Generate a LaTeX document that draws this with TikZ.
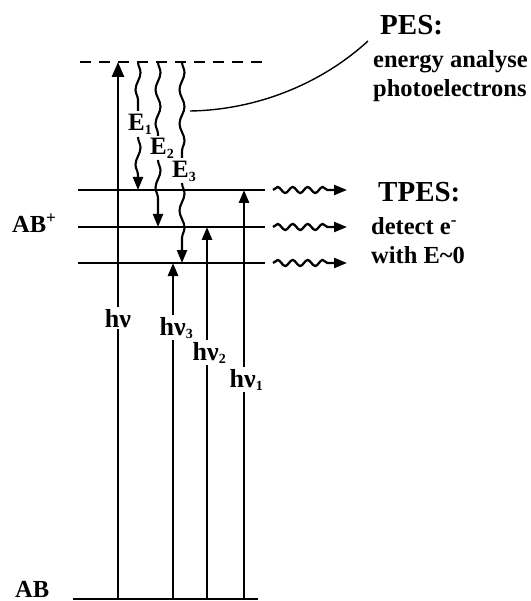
\documentclass[tikz,border=0pt]{standalone}
\usepackage{fontspec}
\setmainfont{Liberation Serif}
\usetikzlibrary{arrows.meta,decorations.pathmorphing}
\newcommand{\lowidx}[1]{\raisebox{-3.5pt}{\fontsize{14}{14}\selectfont #1}}
\begin{document}
\begin{tikzpicture}[x=1pt,y=-1pt,
  lev/.style={line width=2.7pt},
  vline/.style={line width=2.7pt},
  tipbig/.style={-{Triangle[length=15pt,width=12pt]}},
  tipsm/.style={-{Triangle[length=13pt,width=10pt]}},
  big/.style={font=\fontsize{29}{31}\selectfont\bfseries, inner sep=0pt, anchor=base west},
  txt/.style={font=\fontsize{24.5}{27}\selectfont\bfseries, inner sep=0pt, anchor=base west},
  hlbl/.style={font=\fontsize{26}{28}\selectfont\bfseries, inner sep=1.5pt, anchor=base},
  elbl/.style={font=\fontsize{25}{27}\selectfont\bfseries, inner sep=0pt, anchor=base},
  vwig/.style={line width=2.1pt, decorate, decoration={snake, amplitude=2.5pt, segment length=34pt}},
  vwiga/.style={line width=2.1pt, tipsm, decorate, decoration={snake, amplitude=2.5pt, segment length=34pt, post length=13pt}},
  hwave/.style={line width=2.3pt, -{Triangle[length=13pt,width=10pt]}, decorate, decoration={snake, amplitude=3pt, segment length=15pt, post length=13pt}}
]
\useasboundingbox (0,0) rectangle (530,601);

% ground level
\draw[lev] (73,599) coordinate (g0) -- (258,599) coordinate (g1);
% ionic levels
\draw[lev] (78,190) coordinate (l1a) -- (265,190) coordinate (l1b);
\draw[lev] (78,227) coordinate (l2a) -- (265,227) coordinate (l2b);
\draw[lev] (78,263) coordinate (l3a) -- (265,263) coordinate (l3b);
% virtual level
\draw[line width=2.7pt, dash pattern=on 11pt off 8pt] (80,62) coordinate (d0) -- (263,62) coordinate (d1);

% labels
\node[txt] (ABp) at (12,233) {AB\textsuperscript{+}};
\node[txt] (AB) at (15,597) {AB};

% hnu main
\coordinate (b0) at (118,599);
\coordinate (t0) at (118,62);
\node[hlbl] (hv) at (118,327) {hν};
\draw[vline] (b0) -- (b0 |- hv.south);
\draw[vline, tipbig] (b0 |- hv.north) -- (t0);

% hnu3
\coordinate (b3) at (173,599);
\coordinate (e3) at (173,263);
\node[hlbl, anchor=base west] (hv3) at (158,335) {hν\lowidx{3}};
\draw[vline] (b3) -- (b3 |- hv3.south);
\draw[vline, tipsm] (b3 |- hv3.north) -- (e3);
% hnu2
\coordinate (b2) at (207,599);
\coordinate (e2) at (207,227);
\node[hlbl, anchor=base west] (hv2) at (191,360) {hν\lowidx{2}};
\draw[vline] (b2) -- (b2 |- hv2.south);
\draw[vline, tipsm] (b2 |- hv2.north) -- (e2);
% hnu1
\coordinate (b1) at (244,599);
\coordinate (e1) at (244,190);
\node[hlbl, anchor=base west] (hv1) at (228,387) {hν\lowidx{1}};
\draw[vline] (b1) -- (b1 |- hv1.south);
\draw[vline, tipsm] (b1 |- hv1.north) -- (e1);

% photoelectron wiggles
\node[elbl, anchor=base west] (E1) at (128,131) {E\lowidx{1}};
\node[elbl, anchor=base west] (E2) at (150,155) {E\lowidx{2}};
\node[elbl, anchor=base west] (E3) at (172,178) {E\lowidx{3}};
\draw[vwig] (138,62) coordinate (w1t) -- (138,111) coordinate (w1m);
\draw[vwiga] (138,137) coordinate (w1n) -- (138,190) coordinate (w1b);
\draw[vwig] (158,62) coordinate (w2t) -- (158,136) coordinate (w2m);
\draw[vwiga] (158,160) coordinate (w2n) -- (158,227) coordinate (w2b);
\draw[vwig] (182,62) coordinate (w3t) -- (182,158) coordinate (w3m);
\draw[vwiga] (182,183) coordinate (w3n) -- (182,263) coordinate (w3b);

% leader curve to PES
\coordinate (cA) at (190,111);
\coordinate (cB) at (368,41);
\draw[line width=1.4pt] (cA) .. controls (255,110) and (320,85) .. (cB);

% PES text
\node[big] (PES) at (380,35) {PES:};
\node[txt] (en) at (373,68) {energy analyse};
\node[txt] (ph) at (373,97) {photoelectrons};

% TPES
\coordinate (r1a) at (273,190); \coordinate (r1b) at (347,190);
\coordinate (r2a) at (273,227); \coordinate (r2b) at (347,227);
\coordinate (r3a) at (273,263); \coordinate (r3b) at (347,263);
\draw[hwave] (r1a) -- (r1b);
\draw[hwave] (r2a) -- (r2b);
\draw[hwave] (r3a) -- (r3b);
\node[big] (TPES) at (378,202) {TPES:};
\node[txt] (det) at (371,235) {detect e\textsuperscript{-}};
\node[txt] (with) at (371,263) {with E\textasciitilde 0};
\end{tikzpicture}
\end{document}
